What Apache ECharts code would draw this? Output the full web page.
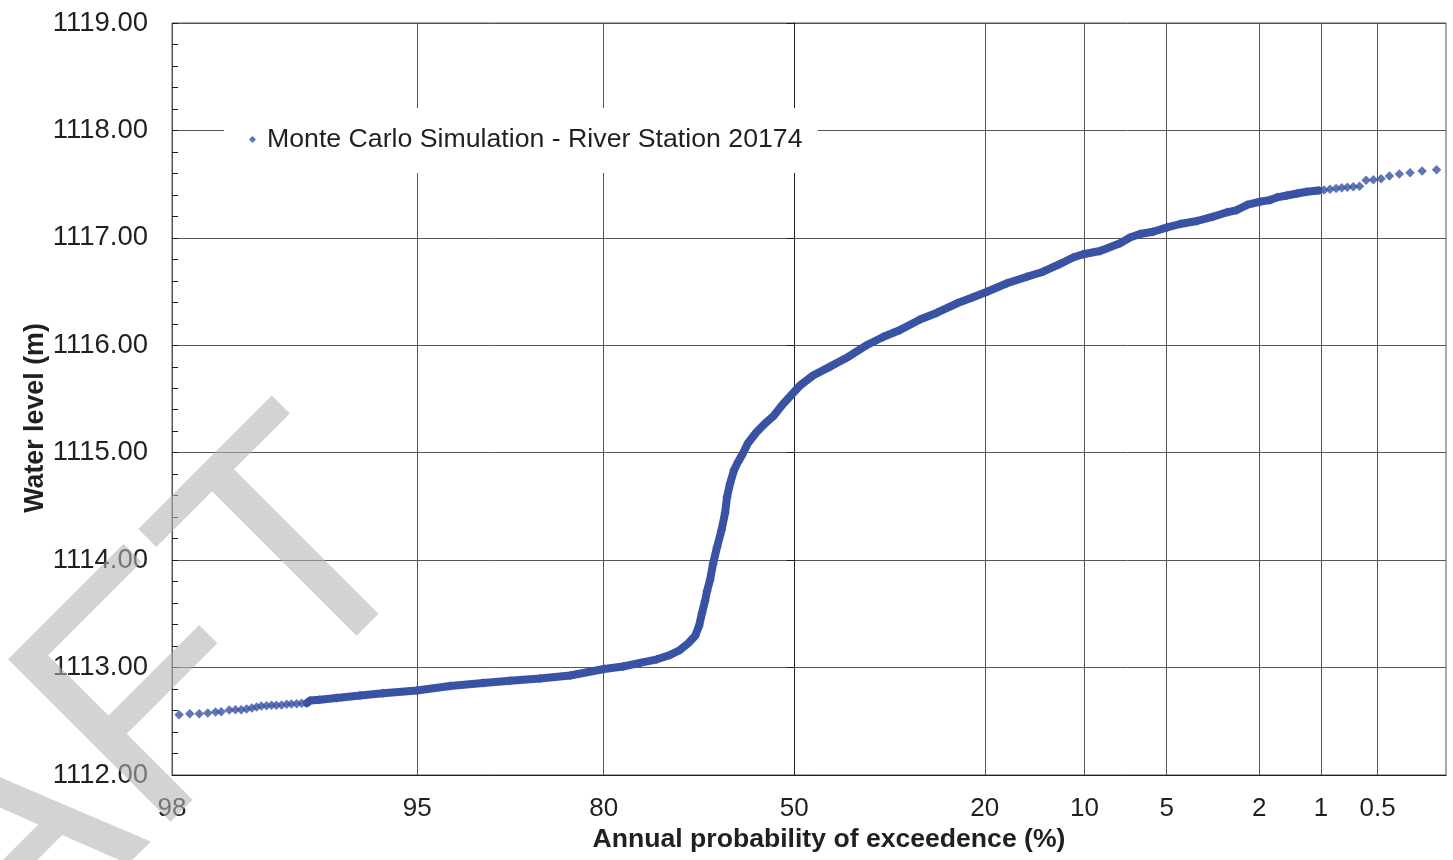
<!DOCTYPE html>
<html>
<head>
<meta charset="utf-8">
<title>Monte Carlo Simulation - River Station 20174</title>
<script src="https://cdn.jsdelivr.net/npm/echarts@6/dist/echarts.min.js"></script>
<style>
  html, body { margin: 0; padding: 0; background: #ffffff; }
  #chart { width: 1453px; height: 860px; }
</style>
</head>
<body>
<div id="chart"></div>
<script>
// Annual probability of exceedence (%) of each simulated water level
const EXCEEDANCE = [
  99.67, 99.62, 99.57, 99.52, 99.47, 99.43, 99.37, 99.32, 99.27, 99.22, 99.17,
  99.12, 99.07, 99.01, 98.95, 98.89, 98.82, 98.75, 98.68, 98.60, 98.52, 98.43,
  98.37, 98.19, 97.84, 97.24, 96.53, 95.22, 93.57, 91.53, 89.53, 86.92,
  83.89, 79.95, 77.52, 75.20, 72.77, 70.83, 69.30, 68.05, 66.93, 66.29,
  65.81, 65.32, 64.99, 64.50, 64.01, 63.34, 62.59, 62.00, 61.67, 61.16,
  60.48, 59.80, 59.11, 58.08, 56.53, 55.13, 53.64, 51.97, 49.86, 48.98,
  46.69, 43.72, 40.78, 37.39, 34.75, 32.02, 28.93, 26.42, 23.61, 21.49,
  19.73, 17.37, 15.20, 13.59, 12.02, 10.91, 10.11, 8.84, 7.51, 6.91,
  6.34, 5.65, 4.98, 4.42, 3.76, 3.22, 2.80, 2.53, 2.28, 1.98,
  1.78, 1.65, 1.48, 1.32, 1.18,
  1.03, 0.965, 0.899, 0.836, 0.781, 0.729, 0.678, 0.627,
  0.578, 0.527, 0.478, 0.429, 0.377, 0.327, 0.278, 0.228
];

// Water level (m) for each exceedence value above
const WATER_LEVEL = [
  1112.561, 1112.571, 1112.571, 1112.577, 1112.586, 1112.589, 1112.605, 1112.608, 1112.608, 1112.614, 1112.624,
  1112.633, 1112.642, 1112.645, 1112.649, 1112.649, 1112.652, 1112.658, 1112.661, 1112.664, 1112.667, 1112.670,
  1112.693, 1112.701, 1112.717, 1112.740, 1112.760, 1112.787, 1112.828, 1112.856, 1112.878, 1112.898,
  1112.926, 1112.987, 1113.010, 1113.043, 1113.077, 1113.117, 1113.164, 1113.224, 1113.294, 1113.387,
  1113.508, 1113.620, 1113.713, 1113.815, 1113.964, 1114.122, 1114.281, 1114.439, 1114.588, 1114.713,
  1114.839, 1114.914, 1114.979, 1115.090, 1115.197, 1115.272, 1115.342, 1115.453, 1115.574, 1115.626,
  1115.719, 1115.801, 1115.886, 1116.003, 1116.077, 1116.142, 1116.240, 1116.303, 1116.391, 1116.447,
  1116.499, 1116.577, 1116.638, 1116.685, 1116.757, 1116.817, 1116.847, 1116.878, 1116.949, 1117.003,
  1117.036, 1117.057, 1117.098, 1117.129, 1117.157, 1117.197, 1117.238, 1117.259, 1117.306, 1117.337,
  1117.352, 1117.377, 1117.394, 1117.413, 1117.429,
  1117.441, 1117.445, 1117.453, 1117.459, 1117.467, 1117.471, 1117.476, 1117.481,
  1117.536, 1117.540, 1117.550, 1117.576, 1117.594, 1117.606, 1117.622, 1117.634
];

// Probability axis: edge values and labelled positions (%)
const X_RANGE = [99.7, 0.2];
const X_TICK_AT = [99.7, 95.2, 80, 50, 20, 10, 5, 2, 1, 0.5];
const X_TICK_LABELS = ['98', '95', '80', '50', '20', '10', '5', '2', '1', '0.5'];

// Water level axis (m)
const Y_RANGE = [1112, 1119];
const Y_STEP = 1;
const Y_MINOR_STEP = 0.2;

// Part of the record dense enough to read as a continuous band
const BAND_RANGE = [98.45, 1.0];

const SERIES_NAME = 'Monte Carlo Simulation - River Station 20174';
const X_TITLE = 'Annual probability of exceedence (%)';
const Y_TITLE = 'Water level (m)';
const WATERMARK = 'DRAFT';

const FONT = '"Liberation Sans", Arial, Helvetica, sans-serif';
const INK = '#231f20';
const BLUE = '#3953a4';
const GRID = '#555555';

// Inverse standard normal CDF (Acklam), used for the normal probability scale
function probit(p) {
  const a = [-3.969683028665376e+01, 2.209460984245205e+02, -2.759285104469687e+02,
             1.383577518672690e+02, -3.066479806614716e+01, 2.506628277459239e+00];
  const b = [-5.447609879822406e+01, 1.615858368580409e+02, -1.556989798598866e+02,
             6.680131188771972e+01, -1.328068155288572e+01];
  const c = [-7.784894002430293e-03, -3.223964580411365e-01, -2.400758277161838e+00,
             -2.549732539343734e+00, 4.374664141464968e+00, 2.938163982698783e+00];
  const d = [7.784695709041462e-03, 3.224671290700398e-01, 2.445134137142996e+00,
             3.754408661907416e+00];
  const pl = 0.02425;
  let q, r;
  if (p < pl) {
    q = Math.sqrt(-2 * Math.log(p));
    return (((((c[0] * q + c[1]) * q + c[2]) * q + c[3]) * q + c[4]) * q + c[5]) /
           ((((d[0] * q + d[1]) * q + d[2]) * q + d[3]) * q + 1);
  }
  if (p > 1 - pl) {
    q = Math.sqrt(-2 * Math.log(1 - p));
    return -(((((c[0] * q + c[1]) * q + c[2]) * q + c[3]) * q + c[4]) * q + c[5]) /
            ((((d[0] * q + d[1]) * q + d[2]) * q + d[3]) * q + 1);
  }
  q = p - 0.5;
  r = q * q;
  return (((((a[0] * r + a[1]) * r + a[2]) * r + a[3]) * r + a[4]) * r + a[5]) * q /
         (((((b[0] * r + b[1]) * r + b[2]) * r + b[3]) * r + b[4]) * r + 1);
}

// exceedence % -> position on the normal probability axis
const toAxis = pct => probit(1 - pct / 100);

const points = EXCEEDANCE.map((pct, i) => [toAxis(pct), WATER_LEVEL[i]]);
const bandPoints = points.filter((pt, i) => EXCEEDANCE[i] <= BAND_RANGE[0] && EXCEEDANCE[i] >= BAND_RANGE[1]);
const tickValues = X_TICK_AT.map(toAxis);

function tickLabel(value) {
  let best = 0;
  for (let i = 1; i < tickValues.length; i++) {
    if (Math.abs(tickValues[i] - value) < Math.abs(tickValues[best] - value)) best = i;
  }
  return X_TICK_LABELS[best];
}

const chart = echarts.init(document.getElementById('chart'), null, { renderer: 'canvas' });

chart.setOption({
  animation: false,
  backgroundColor: '#ffffff',
  textStyle: { fontFamily: FONT, color: INK },
  grid: {
    left: 172, right: 7, top: 23, bottom: 85,
    show: true, borderColor: GRID, borderWidth: 1, backgroundColor: 'transparent'
  },
  legend: {
    data: [{ name: SERIES_NAME, icon: 'diamond' }],
    left: 224, top: 108,
    padding: [18, 15, 20, 25],
    itemWidth: 7, itemHeight: 7,
    backgroundColor: '#ffffff',
    selectedMode: false,
    textStyle: { fontSize: 26.7, color: INK, fontFamily: FONT, padding: [0, 0, 0, 6] }
  },
  xAxis: {
    type: 'value',
    min: toAxis(X_RANGE[0]),
    max: toAxis(X_RANGE[1]),
    axisLine: { show: true, onZero: false, lineStyle: { color: INK, width: 1 } },
    axisTick: { show: false, customValues: tickValues },
    axisLabel: {
      customValues: tickValues,
      formatter: tickLabel,
      fontSize: 26, color: INK, fontFamily: FONT, margin: 21,
      showMinLabel: true, showMaxLabel: true
    },
    splitLine: { show: true, lineStyle: { color: GRID, width: 1 } }
  },
  yAxis: [
    {
      type: 'value',
      position: 'left',
      min: Y_RANGE[0], max: Y_RANGE[1], interval: Y_STEP,
      axisLine: { show: true, lineStyle: { color: INK, width: 1 } },
      axisTick: { show: true, length: 8, lineStyle: { color: INK } },
      axisLabel: {
        formatter: v => v.toFixed(2),
        fontSize: 27.5, color: INK, fontFamily: FONT, margin: 24
      },
      splitLine: { show: true, lineStyle: { color: GRID, width: 1 } }
    },
    {
      type: 'value',
      position: 'left',
      min: Y_RANGE[0], max: Y_RANGE[1], interval: Y_MINOR_STEP,
      axisLine: { show: false },
      axisTick: { show: true, inside: true, length: 6, lineStyle: { color: INK } },
      axisLabel: { show: false },
      splitLine: { show: false }
    }
  ],
  series: [
    {
      name: 'band',
      type: 'line',
      data: bandPoints,
      showSymbol: false,
      symbol: 'none',
      silent: true,
      z: 2,
      lineStyle: { color: BLUE, width: 8, cap: 'round', join: 'round' }
    },
    {
      name: SERIES_NAME,
      type: 'scatter',
      data: points,
      symbol: 'diamond',
      symbolSize: 9.5,
      z: 3,
      itemStyle: { color: BLUE }
    }
  ],
  graphic: [
    {
      type: 'text',
      x: 829, y: 840,
      style: {
        text: X_TITLE, fill: INK,
        font: 'bold 26.6px ' + FONT,
        align: 'center', verticalAlign: 'middle'
      }
    },
    {
      type: 'text',
      x: 36, y: 418,
      rotation: Math.PI / 2,
      style: {
        text: Y_TITLE, fill: INK,
        font: 'bold 26.8px ' + FONT,
        align: 'center', verticalAlign: 'middle'
      }
    },
    {
      type: 'text',
      x: -19, y: 881,
      rotation: Math.PI / 4,
      z: 100,
      silent: true,
      style: {
        text: WATERMARK,
        fill: 'rgba(180,180,180,0.58)',
        font: '334px ' + FONT,
        align: 'center', verticalAlign: 'middle'
      }
    }
  ]
});
</script>
</body>
</html>
